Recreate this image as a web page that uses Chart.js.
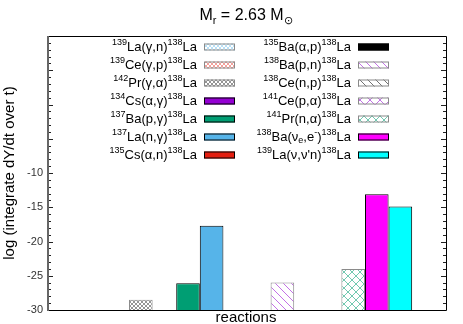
<!DOCTYPE html>
<html>
<head>
<meta charset="utf-8">
<script src="https://cdn.jsdelivr.net/npm/chart.js@4.4.1/dist/chart.umd.min.js"></script>
<style>
  body { margin: 0; background: #fff; }
</style>
</head>
<body>
<canvas id="chart" width="463" height="324"></canvas>
<script>
// data: one bar per reaction, log of integrated yield (null = not drawn)
const reactions = [
  "^{139}La(γ,n)^{138}La", "^{139}Ce(γ,p)^{138}La", "^{142}Pr(γ,α)^{138}La",
  "^{134}Cs(α,γ)^{138}La", "^{137}Ba(p,γ)^{138}La", "^{137}La(n,γ)^{138}La",
  "^{135}Cs(α,n)^{138}La", "^{135}Ba(α,p)^{138}La", "^{138}Ba(p,n)^{138}La",
  "^{138}Ce(n,p)^{138}La", "^{141}Ce(p,α)^{138}La", "^{141}Pr(n,α)^{138}La",
  "^{138}Ba(ν_{e},e^{-})^{138}La", "^{139}La(ν,ν'n)^{138}La"
];
const logYield = [null, null, -28.5, null, -26.1, -17.7, null, null, -26.0, null, null, -24.0, -13.1, -14.9];
const yMin = -30, yMax = 10, yStep = 5;
const yLabeledMax = -10;

const titleText = "M_{r} = 2.63 M_{⊙}";
const yTitle = "log (integrate dY/dt over t)";
const xTitle = "reactions";

// styles (fill kind + colour) for each reaction
const styles = [
  ["fine", "#56b4e9"], ["fine", "#e51e10"], ["fine", "#000000"],
  ["solid", "#9400d3"], ["solid", "#009e73"], ["solid", "#56b4e9"],
  ["solid", "#e51e10"], ["solid", "#000000"], ["back", "#9400d3"],
  ["back", "#000000"], ["bigx", "#9400d3"], ["cross", "#009e73"],
  ["solid", "#ff00ff"], ["solid", "#00ffff"]
];

const FONT = "'Liberation Sans', Arial, Helvetica, sans-serif";

function makePattern(kind, color) {
  const c = document.createElement("canvas");
  const s = kind == "fine" ? 4 : kind == "bigx" ? 10 : 8;
  c.width = s; c.height = s;
  const g = c.getContext("2d");
  g.fillStyle = "#fff";
  g.fillRect(0, 0, s, s);
  g.strokeStyle = color;
  g.globalAlpha = kind == "fine" ? 0.7 : 0.8;
  g.lineWidth = kind == "fine" ? 0.6 : 0.7;
  g.beginPath();
  // "\" lines
  g.moveTo(-1, -1); g.lineTo(s + 1, s + 1);
  if (kind != "back") {
    g.moveTo(s + 1, -1); g.lineTo(-1, s + 1);
  }
  g.stroke();
  return g.createPattern(c, "repeat");
}

function fillFor(i) {
  const [kind, color] = styles[i];
  return kind == "solid" ? color : makePattern(kind, color);
}
function borderFor(i) {
  return styles[i][0] == "solid" ? "#000" : "#8a8a8a";
}

// draw text with ^{sup} and _{sub} markup
function richParts(str) {
  return str.split(/(\^\{[^}]*\}|_\{[^}]*\})/).filter(s => s.length).map(s => {
    if (s.startsWith("^{")) return { t: s.slice(2, -1), k: "sup" };
    if (s.startsWith("_{")) return { t: s.slice(2, -1), k: "sub" };
    return { t: s, k: "n" };
  });
}
function drawRich(ctx, str, x, y, size, align) {
  const parts = richParts(str);
  const small = Math.round(size * 0.7);
  let w = 0;
  parts.forEach(p => {
    ctx.font = (p.k == "n" ? size : small) + "px " + FONT;
    p.w = ctx.measureText(p.t).width;
    w += p.w;
  });
  let cx = align == "right" ? x - w : align == "center" ? x - w / 2 : x;
  ctx.textBaseline = "middle";
  ctx.textAlign = "left";
  parts.forEach(p => {
    ctx.font = (p.k == "n" ? size : small) + "px " + FONT;
    const dy = p.k == "sup" ? -size * 0.38 : p.k == "sub" ? size * 0.28 : 0;
    ctx.fillText(p.t, cx, y + dy);
    cx += p.w;
  });
}

const deco = {
  id: "deco",
  afterDatasetsDraw(chart) {
    const { ctx, chartArea: a, scales: { y } } = chart;
    const L = Math.round(a.left), R = Math.round(a.right);
    const T = Math.round(a.top), B = Math.round(a.bottom);
    ctx.save();
    ctx.strokeStyle = "#222";
    ctx.lineWidth = 1;
    ctx.beginPath();
    for (let v = yMin; v <= yMax; v++) {
      const py = Math.round(y.getPixelForValue(v)) + 0.5;
      const len = v % yStep == 0 ? 5 : 3;
      ctx.moveTo(L, py); ctx.lineTo(L + len, py);
      ctx.moveTo(R - len, py); ctx.lineTo(R, py);
    }
    ctx.stroke();
    // frame
    ctx.strokeStyle = "#000";
    ctx.beginPath();
    ctx.moveTo(L, T + 0.5); ctx.lineTo(R + 0.5, T + 0.5);
    ctx.lineTo(R + 0.5, B + 0.5); ctx.lineTo(L, B + 0.5);
    ctx.stroke();
    ctx.strokeStyle = "#666";
    ctx.lineWidth = 2;
    ctx.beginPath();
    ctx.moveTo(L, T); ctx.lineTo(L, B + 1);
    ctx.stroke();
    ctx.restore();
  },
  afterDraw(chart) {
    const { ctx, chartArea: a } = chart;
    ctx.save();
    ctx.fillStyle = "#000";
    // title
    drawRich(ctx, titleText, 246, 16, 16, "center");
    // x axis title
    ctx.font = "15px " + FONT;
    ctx.textAlign = "center";
    ctx.textBaseline = "middle";
    ctx.fillText(xTitle, 246, 318);
    // y axis title
    ctx.save();
    ctx.translate(10, (a.top + a.bottom) / 2);
    ctx.rotate(-Math.PI / 2);
    ctx.fillText(yTitle, 0, 0);
    ctx.restore();
    // legend, two columns of seven
    chart.data.datasets.forEach((ds, i) => {
      const col = Math.floor(i / 7), row = i % 7;
      const yy = a.top + 11 + row * 18;
      const textRight = a.left + 149 + col * 154;
      const boxX = a.left + 156 + col * 154;
      ctx.fillStyle = "#000";
      drawRich(ctx, ds.label, textRight, yy, 13, "right");
      ctx.fillStyle = ds.backgroundColor;
      ctx.fillRect(boxX, yy - 3.5, 31, 7);
      ctx.strokeStyle = ds.borderColor;
      ctx.lineWidth = 1;
      ctx.strokeRect(boxX + 0.5, yy - 3, 30, 6);
    });
    ctx.restore();
  }
};

const datasets = reactions.map((r, i) => ({
  label: r,
  data: [logYield[i]],
  base: yMin,
  backgroundColor: fillFor(i),
  borderColor: borderFor(i),
  borderWidth: 1,
  categoryPercentage: 0.83,
  barPercentage: 1.0
}));

new Chart(document.getElementById("chart"), {
  type: "bar",
  data: { labels: [""], datasets: datasets },
  options: {
    responsive: false,
    animation: false,
    layout: { padding: { left: 0, top: 36, right: 17, bottom: 0 } },
    plugins: { legend: { display: false }, title: { display: false }, tooltip: { enabled: false } },
    scales: {
      x: {
        grid: { display: false },
        border: { display: false },
        ticks: { display: false },
        afterFit(scale) { scale.height = 14; }
      },
      y: {
        min: yMin,
        max: yMax,
        grid: { display: false, drawTicks: false },
        border: { display: false },
        ticks: {
          stepSize: yStep,
          padding: 5,
          color: "#333",
          font: { family: FONT, size: 11 },
          callback: v => (v <= yLabeledMax ? v : "")
        },
        afterFit(scale) { scale.width = 48; }
      }
    }
  },
  plugins: [deco]
});
</script>
</body>
</html>
